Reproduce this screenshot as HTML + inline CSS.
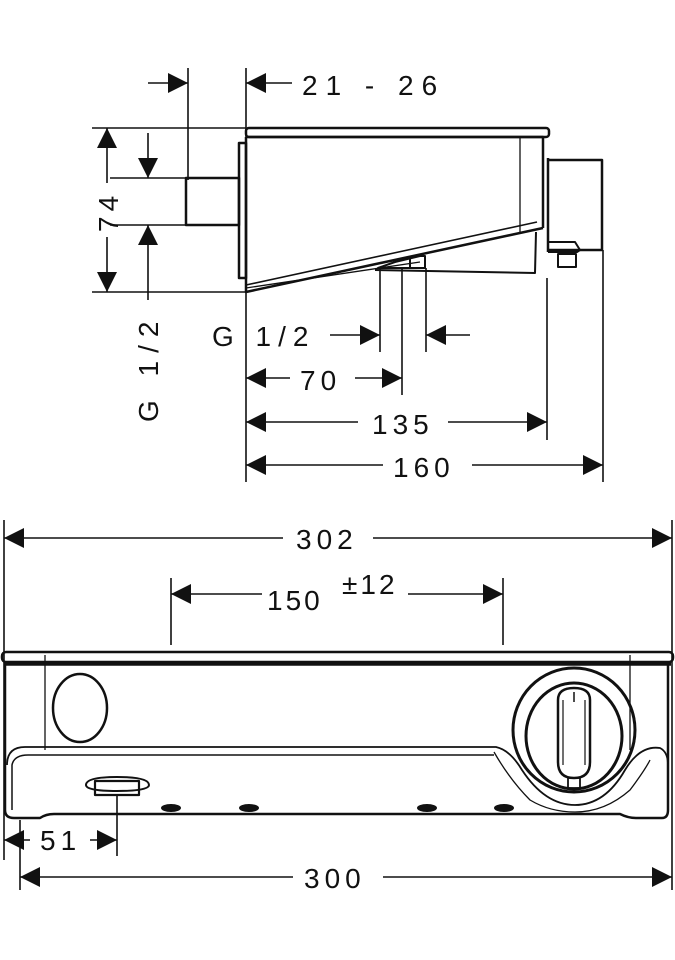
<!DOCTYPE html>
<html><head><meta charset="utf-8"><style>
html,body{margin:0;padding:0;background:#fff}
svg{display:block}
text{font-family:"Liberation Sans",sans-serif;font-size:28px;fill:#111;letter-spacing:5px}
</style></head><body>
<svg width="675" height="960" viewBox="0 0 675 960" xmlns="http://www.w3.org/2000/svg">
<defs>
<path id="ar" d="M0,0 L20,-10 L20,10 Z" fill="#111"/>
</defs>
<g stroke="#111" fill="none" stroke-width="1.6">
<line x1="188" y1="68" x2="188" y2="180"/>
<line x1="246" y1="68" x2="246" y2="482"/>
<line x1="92" y1="128" x2="246" y2="128"/>
<line x1="92" y1="292" x2="246" y2="292"/>
<line x1="110" y1="178" x2="186" y2="178"/>
<line x1="110" y1="225" x2="186" y2="225"/>
<line x1="380" y1="268" x2="380" y2="352"/>
<line x1="402" y1="268" x2="402" y2="395"/>
<line x1="426" y1="268" x2="426" y2="352"/>
<line x1="547" y1="278" x2="547" y2="440"/>
<line x1="603" y1="250" x2="603" y2="482"/>
<line x1="148" y1="83" x2="188" y2="83"/>
<line x1="246" y1="83" x2="292" y2="83"/>
<line x1="107" y1="128" x2="107" y2="183"/>
<line x1="107" y1="237" x2="107" y2="292"/>
<line x1="148" y1="133" x2="148" y2="178"/>
<line x1="148" y1="225" x2="148" y2="300"/>
<line x1="330" y1="335" x2="380" y2="335"/>
<line x1="426" y1="335" x2="470" y2="335"/>
<line x1="246" y1="378" x2="290" y2="378"/>
<line x1="355" y1="378" x2="402" y2="378"/>
<line x1="246" y1="422" x2="358" y2="422"/>
<line x1="448" y1="422" x2="547" y2="422"/>
<line x1="246" y1="465" x2="383" y2="465"/>
<line x1="472" y1="465" x2="603" y2="465"/>
</g>
<g fill="#111">
<use href="#ar" transform="translate(188,83) rotate(180)"/>
<use href="#ar" transform="translate(246,83)"/>
<use href="#ar" transform="translate(107,128) rotate(90)"/>
<use href="#ar" transform="translate(107,292) rotate(-90)"/>
<use href="#ar" transform="translate(148,178) rotate(-90)"/>
<use href="#ar" transform="translate(148,225) rotate(90)"/>
<use href="#ar" transform="translate(380,335) rotate(180)"/>
<use href="#ar" transform="translate(426,335)"/>
<use href="#ar" transform="translate(246,378)"/>
<use href="#ar" transform="translate(402,378) rotate(180)"/>
<use href="#ar" transform="translate(246,422)"/>
<use href="#ar" transform="translate(547,422) rotate(180)"/>
<use href="#ar" transform="translate(246,465)"/>
<use href="#ar" transform="translate(603,465) rotate(180)"/>
</g>
<g stroke="#111" fill="none" stroke-width="2.5" stroke-linejoin="round">
<rect x="246" y="128" width="303" height="9" rx="3"/>
<path d="M246,137 L543,137 L543,228"/>
<line x1="520" y1="137" x2="520" y2="232" stroke-width="1.3"/>
<path d="M246,137 L246,292 L543,228"/>
<path d="M246,285 L537,222" stroke-width="1.6"/>
<path d="M375,270 L535,273 L536,232" stroke-width="2"/>
<path d="M246,288 L420,262" stroke-width="1.3"/>
<rect x="239" y="143" width="7" height="135"/>
<rect x="186" y="178" width="53" height="47"/>
<path d="M548,160 L602,160 L602,250 L548,250"/>
<line x1="548" y1="158" x2="548" y2="252"/>
<path d="M548,242 L575,242 L580,250 L577,252 L548,252" stroke-width="2"/>
<rect x="558" y="254" width="18" height="13" stroke-width="2"/>
<path d="M378,268 L395,262 L420,256 L425,256 L425,268 Z" stroke-width="2"/>
<line x1="410" y1="258" x2="410" y2="268" stroke-width="2"/>
</g>
<text x="302" y="95" style="letter-spacing:8px">21 - 26</text>
<text transform="translate(118,232) rotate(-90)">74</text>
<text transform="translate(158,422) rotate(-90)" style="letter-spacing:8px">G 1/2</text>
<text x="212" y="346" style="letter-spacing:7px">G 1/2</text>
<text x="300" y="390">70</text>
<text x="372" y="434">135</text>
<text x="393" y="477">160</text>
<g stroke="#111" fill="none" stroke-width="1.6">
<line x1="4" y1="520" x2="4" y2="860"/>
<line x1="672" y1="520" x2="672" y2="890"/>
<line x1="171" y1="578" x2="171" y2="645"/>
<line x1="503" y1="578" x2="503" y2="645"/>
<line x1="4" y1="538" x2="283" y2="538"/>
<line x1="373" y1="538" x2="672" y2="538"/>
<line x1="171" y1="594" x2="262" y2="594"/>
<line x1="408" y1="594" x2="503" y2="594"/>
<line x1="117" y1="795" x2="117" y2="856"/>
<line x1="20" y1="820" x2="20" y2="890"/>
<line x1="4" y1="840" x2="30" y2="840"/>
<line x1="90" y1="840" x2="117" y2="840"/>
<line x1="20" y1="877" x2="293" y2="877"/>
<line x1="383" y1="877" x2="672" y2="877"/>
</g>
<g fill="#111">
<use href="#ar" transform="translate(4,538)"/>
<use href="#ar" transform="translate(672,538) rotate(180)"/>
<use href="#ar" transform="translate(171,594)"/>
<use href="#ar" transform="translate(503,594) rotate(180)"/>
<use href="#ar" transform="translate(4,840)"/>
<use href="#ar" transform="translate(117,840) rotate(180)"/>
<use href="#ar" transform="translate(20,877)"/>
<use href="#ar" transform="translate(672,877) rotate(180)"/>
</g>
<text x="296" y="549">302</text>
<text x="267" y="610" style="letter-spacing:3px">150</text>
<text x="342" y="594" style="letter-spacing:3px">±12</text>
<text x="40" y="850">51</text>
<text x="304" y="888">300</text>
<g stroke="#111" fill="none" stroke-width="2.5" stroke-linejoin="round">
<rect x="2" y="652" width="671" height="10" rx="4"/>
<line x1="4" y1="664" x2="671" y2="664" stroke-width="3.5"/>
<path d="M5,664 L5,810 Q5,818 14,818 L40,818 Q46,814 54,814 L620,814 Q628,818 636,818 L662,818 Q668,818 668,810 L668,664"/>
<line x1="45" y1="655" x2="45" y2="750" stroke-width="1.3"/>
<line x1="630" y1="655" x2="630" y2="750" stroke-width="1.3"/>
<ellipse cx="80" cy="708" rx="27" ry="34"/>
<path d="M7,765 Q7,747 25,747 L496,747 Q510,750 522,770 Q545,805 575,805 Q605,805 625,770 Q640,745 660,748 Q668,752 668,765" stroke-width="1.8"/>
<path d="M12,810 L12,765 Q14,755 28,755 L494,755" stroke-width="1.5"/>
<path d="M494,752 Q510,780 530,800 Q550,812 575,812 Q605,812 630,790 Q645,770 650,760" stroke-width="1.3"/>
<ellipse cx="574" cy="730" rx="61" ry="62" stroke-width="3"/>
<ellipse cx="574" cy="736" rx="48" ry="53" stroke-width="3"/>
<path d="M558,700 Q558,688 574,688 Q590,688 590,700 L590,762 Q590,778 574,778 Q558,778 558,762 Z" stroke-width="2.5"/>
<line x1="563" y1="700" x2="563" y2="765" stroke-width="1.2"/>
<line x1="585" y1="700" x2="585" y2="765" stroke-width="1.2"/>
<line x1="574" y1="692" x2="574" y2="702" stroke-width="1.5"/>
<rect x="568" y="778" width="12" height="10" stroke-width="1.8"/>
<path d="M86,785 Q86,777 117,777 Q149,777 149,785 Q149,791 117,791 Q86,791 86,785 Z" stroke-width="2"/>
<rect x="95" y="781" width="44" height="14" stroke-width="2.2"/>
</g>
<g fill="#111">
<ellipse cx="171" cy="808" rx="10" ry="4"/>
<ellipse cx="249" cy="808" rx="10" ry="4"/>
<ellipse cx="427" cy="808" rx="10" ry="4"/>
<ellipse cx="504" cy="808" rx="10" ry="4"/>
</g>
</svg>
</body></html>
